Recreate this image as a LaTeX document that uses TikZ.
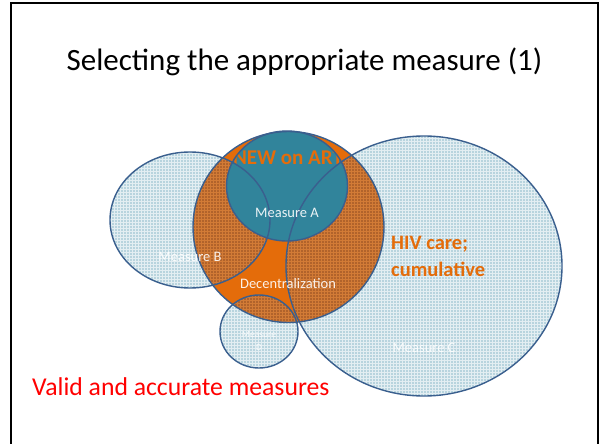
\documentclass[tikz,border=0pt]{standalone}
\usepackage{fontspec}
\setmainfont{Carlito}
\usetikzlibrary{patterns}
\definecolor{orng}{HTML}{E46C0A}
\definecolor{tealA}{HTML}{31849B}
\definecolor{edgec}{HTML}{3A5F8E}
\definecolor{lightb}{HTML}{B8D4DE}
\definecolor{gridl}{HTML}{E3EEF2}
\definecolor{brownh}{HTML}{B1632B}
\definecolor{gridb}{HTML}{D27B36}
\tikzset{
  lbl/.style={inner sep=0pt, text=white, opacity=0.9},
  outl/.style={draw=edgec, line width=1.4pt},
}
\begin{document}
\begin{tikzpicture}[x=1pt,y=-1pt]
\useasboundingbox (0,0) rectangle (600,444);
\fill[white] (0,0) rectangle (600,444);
\draw[line width=2pt] (11,450) -- (11,3) -- (598,3) -- (598,450);
\node[inner sep=0pt, font=\fontsize{31}{37}\selectfont] (title) at (304.5,62) {Selecting the appropriate measure (1)};
% light pattern circles
\foreach \c/\rx/\ry in {{(190,220)}/80/68, {(424,266)}/138/130, {(259,331.5)}/39/36.5}{
  \fill[lightb] \c ellipse [x radius=\rx pt, y radius=\ry pt];
  \fill[pattern=grid, pattern color=gridl] \c ellipse [x radius=\rx pt, y radius=\ry pt];
}
% orange circle
\fill[orng] (288.5,227) circle [radius=95.5pt];
% teal A
\fill[tealA] (287,186) ellipse [x radius=60.5pt, y radius=55pt];
\node[inner sep=0pt, text=orng, font=\fontsize{21}{25}\selectfont\bfseries] (new) at (288,158) {NEW on ART};
% hatched overlaps inside orange circle, outside A
\begin{scope}
  \clip (288.5,227) circle [radius=95.5pt];
  \foreach \c/\rx/\ry in {{(190,220)}/80/68, {(424,266)}/138/130, {(259,331.5)}/39/36.5}{
    \begin{scope}
      \clip \c ellipse [x radius=\rx pt, y radius=\ry pt];
      \fill[brownh, even odd rule] (0,0) rectangle (600,444) (287,186) ellipse [x radius=60.5pt, y radius=55pt];
      \fill[pattern=grid, pattern color=gridb, even odd rule] (0,0) rectangle (600,444) (287,186) ellipse [x radius=60.5pt, y radius=55pt];
    \end{scope}
  }
\end{scope}
% outlines
\draw[outl] (288.5,227) circle [radius=95.5pt];
\draw[outl] (287,186) ellipse [x radius=60.5pt, y radius=55pt];
\draw[outl] (190,220) ellipse [x radius=80pt, y radius=68pt];
\draw[outl] (424,266) ellipse [x radius=138pt, y radius=130pt];
\draw[outl] (259,331.5) ellipse [x radius=39pt, y radius=36.5pt];
% labels
\node[lbl, font=\fontsize{14.5}{17}\selectfont] (ma) at (287,213) {Measure A};
\node[lbl, font=\fontsize{14.5}{17}\selectfont] (mb) at (190,257) {Measure B};
\node[lbl, font=\fontsize{14.5}{17}\selectfont] (dec) at (288,284) {Decentralization};
\node[lbl, font=\fontsize{14.5}{17}\selectfont, opacity=0.85] (mc) at (424,348) {Measure C};
\node[lbl, font=\fontsize{9.5}{13}\selectfont, opacity=0.85, align=center] (md) at (259,340.5) {Measure\\D};
\node[inner sep=0pt, anchor=west, text=orng, align=left, font=\fontsize{20.5}{27}\selectfont\bfseries] (hiv) at (391,256.5) {HIV care;\\cumulative};
\node[inner sep=0pt, anchor=west, text=red, font=\fontsize{25.7}{30}\selectfont] (valid) at (32,387) {Valid and accurate measures};
\end{tikzpicture}
\end{document}
